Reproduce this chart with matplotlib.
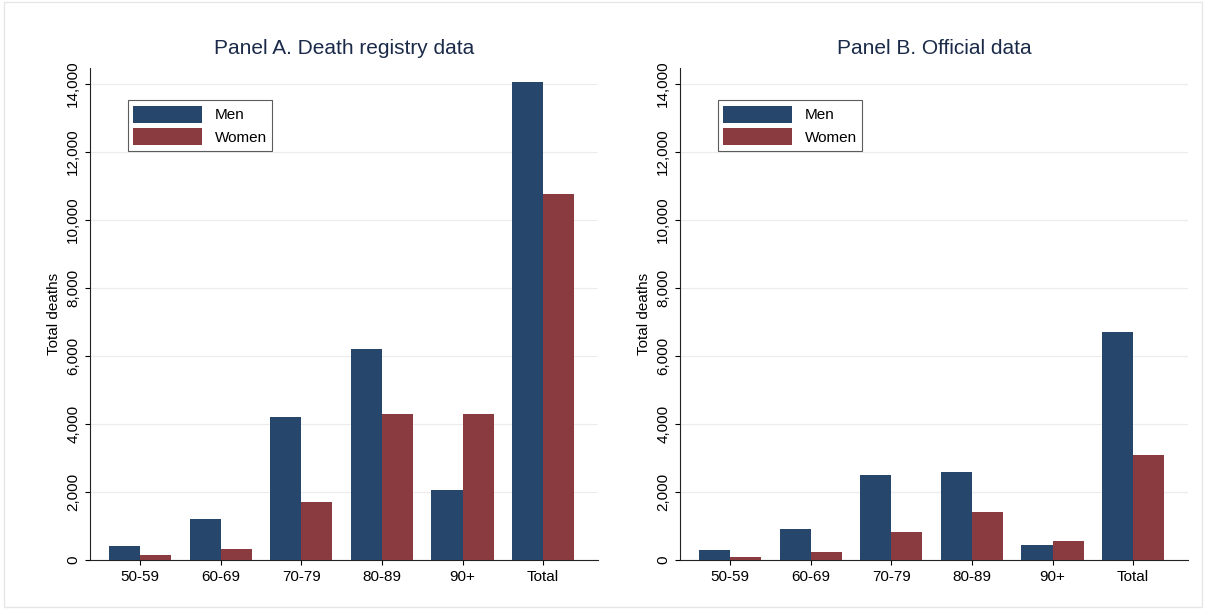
import matplotlib.pyplot as plt
import numpy as np

plt.rcParams['font.family'] = ['Liberation Sans', 'DejaVu Sans']

groups = ['50-59', '60-69', '70-79', '80-89', '90+', 'Total']
registry_men = [400, 1200, 4200, 6200, 2050, 14050]
registry_women = [150, 320, 1700, 4300, 4300, 10750]
official_men = [300, 900, 2500, 2580, 450, 6700]
official_women = [80, 230, 820, 1400, 550, 3100]

NAVY = '#26466b'
MAROON = '#8a3b3f'

fig = plt.figure(figsize=(12.06, 6.09), dpi=100)
fig.patches.append(plt.Rectangle((0.003, 0.003), 0.994, 0.994, transform=fig.transFigure,
                                 fill=False, edgecolor='#e6e6e6', linewidth=1))

panels = [
    ([90 / 1206, 49 / 609, 508 / 1206, 492 / 609], 'Panel A. Death registry data', registry_men, registry_women),
    ([680 / 1206, 49 / 609, 508 / 1206, 492 / 609], 'Panel B. Official data', official_men, official_women),
]

x = np.arange(len(groups))
w = 0.385
for rect, title, men, women in panels:
    ax = fig.add_axes(rect)
    ax.bar(x - w / 2, men, w, color=NAVY, label='Men', zorder=3)
    ax.bar(x + w / 2, women, w, color=MAROON, label='Women', zorder=3)
    ax.set_ylim(0, 14470)
    ax.set_xlim(-0.62, 5.68)
    ax.set_yticks(range(0, 14001, 2000))
    ax.set_yticklabels([f'{v:,}' for v in range(0, 14001, 2000)], rotation=90, va='center', fontsize=11)
    ax.set_xticks(x)
    ax.set_xticklabels(groups, fontsize=11)
    ax.grid(axis='y', color='#ececec', linewidth=0.8, zorder=0)
    for s in ['top', 'right']:
        ax.spines[s].set_visible(False)
    for s in ['left', 'bottom']:
        ax.spines[s].set_color('#222222')
    ax.set_ylabel('Total deaths', fontsize=11)
    ax.set_title(title, fontsize=15, color='#1a2a48', pad=10)
    leg = ax.legend(loc='upper left', bbox_to_anchor=(0.06, 0.95), fancybox=False,
                    edgecolor='#333333', fontsize=11, handlelength=4.5, handleheight=1.4,
                    borderpad=0.35, labelspacing=0.3)
    leg.get_frame().set_linewidth(0.8)

fig.savefig('out.png', dpi=100)
